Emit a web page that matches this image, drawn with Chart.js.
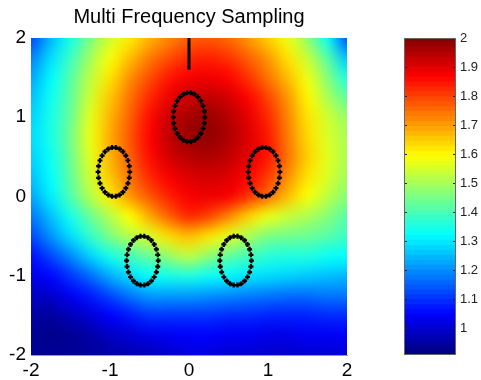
<!DOCTYPE html>
<html>
<head>
<meta charset="utf-8">
<script src="https://cdn.jsdelivr.net/npm/chart.js@4.4.1/dist/chart.umd.min.js"></script>
<style>
  html, body { margin: 0; padding: 0; background: #fff; }
  #wrap { position: relative; width: 481px; height: 380px; }
  #plot { position: absolute; left: 0; top: 0; }
  #bar { position: absolute; left: 378px; top: 0; }
</style>
</head>
<body>
<div id="wrap">
  <canvas id="plot" width="378" height="380"></canvas>
  <canvas id="bar" width="103" height="380"></canvas>
</div>
<script>
// sample grid (x left to right, y top to bottom)
const gridX = [-2, -1.75, -1.5, -1.25, -1, -0.75, -0.5, -0.25, 0, 0.25, 0.5, 0.75, 1, 1.25, 1.5, 1.75, 2];
const gridY = [2, 1.75, 1.5, 1.25, 1, 0.75, 0.5, 0.25, 0, -0.25, -0.5, -0.75, -1, -1.25, -1.5, -1.75, -2];

// field value at each grid node, one row per gridY entry
const field = [
  [1.12, 1.24, 1.34, 1.45, 1.54, 1.61, 1.67, 1.72, 1.76, 1.77, 1.75, 1.70, 1.64, 1.57, 1.47, 1.33, 1.13],
  [1.18, 1.28, 1.38, 1.49, 1.58, 1.66, 1.73, 1.78, 1.82, 1.83, 1.81, 1.76, 1.70, 1.62, 1.53, 1.41, 1.25],
  [1.22, 1.31, 1.41, 1.52, 1.62, 1.71, 1.78, 1.84, 1.87, 1.88, 1.86, 1.81, 1.74, 1.66, 1.57, 1.46, 1.35],
  [1.25, 1.33, 1.42, 1.54, 1.65, 1.74, 1.82, 1.88, 1.92, 1.93, 1.91, 1.86, 1.79, 1.70, 1.60, 1.50, 1.42],
  [1.27, 1.34, 1.43, 1.56, 1.67, 1.76, 1.85, 1.92, 1.96, 1.97, 1.94, 1.89, 1.82, 1.72, 1.62, 1.54, 1.48],
  [1.28, 1.34, 1.44, 1.57, 1.68, 1.77, 1.86, 1.93, 1.97, 1.98, 1.95, 1.90, 1.84, 1.73, 1.63, 1.55, 1.50],
  [1.27, 1.33, 1.43, 1.56, 1.67, 1.76, 1.85, 1.91, 1.94, 1.95, 1.93, 1.89, 1.84, 1.74, 1.64, 1.56, 1.50],
  [1.25, 1.32, 1.42, 1.54, 1.65, 1.74, 1.82, 1.87, 1.90, 1.91, 1.90, 1.86, 1.80, 1.71, 1.62, 1.55, 1.49],
  [1.22, 1.30, 1.40, 1.51, 1.61, 1.70, 1.77, 1.83, 1.87, 1.88, 1.87, 1.81, 1.74, 1.66, 1.58, 1.52, 1.46],
  [1.17, 1.25, 1.34, 1.43, 1.51, 1.59, 1.68, 1.76, 1.82, 1.79, 1.72, 1.64, 1.57, 1.53, 1.50, 1.46, 1.41],
  [1.12, 1.20, 1.28, 1.37, 1.45, 1.51, 1.55, 1.63, 1.66, 1.62, 1.56, 1.50, 1.45, 1.44, 1.43, 1.41, 1.38],
  [1.06, 1.12, 1.19, 1.27, 1.34, 1.39, 1.43, 1.48, 1.52, 1.47, 1.42, 1.39, 1.36, 1.35, 1.35, 1.33, 1.32],
  [1.02, 1.05, 1.10, 1.16, 1.23, 1.28, 1.32, 1.34, 1.35, 1.33, 1.31, 1.29, 1.28, 1.27, 1.26, 1.25, 1.24],
  [0.98, 0.99, 1.03, 1.07, 1.12, 1.17, 1.21, 1.21, 1.21, 1.20, 1.19, 1.18, 1.17, 1.16, 1.16, 1.17, 1.17],
  [0.95, 0.94, 0.97, 1.00, 1.04, 1.07, 1.10, 1.10, 1.10, 1.10, 1.09, 1.09, 1.08, 1.08, 1.08, 1.09, 1.09],
  [0.93, 0.92, 0.93, 0.95, 0.98, 1.00, 1.02, 1.03, 1.04, 1.04, 1.03, 1.03, 1.02, 1.02, 1.03, 1.03, 1.04],
  [0.93, 0.93, 0.93, 0.94, 0.95, 0.96, 0.97, 0.99, 1.01, 1.01, 1.00, 1.00, 0.99, 0.99, 1.00, 1.00, 1.00]
];

// sampling rings (centres and half-axes)
const ringX = [0, -0.95, -0.59, 0.59, 0.95];
const ringY = [1.0, 0.31, -0.81, -0.81, 0.31];
const ringRadiusX = 0.2;
const ringRadiusY = 0.31;
const dotsPerRing = 26;

// probe segment at the top
const probeX = [0, 0];
const probeY = [1.6, 2];

// colour scale
const colorMin = 0.907;
const colorMax = 2;
const colorLevels = 64;

const fontFamily = '"Liberation Sans", Arial, Helvetica, sans-serif';

function jet(t) {
  t = Math.min(1, Math.max(0, t));
  const c = v => Math.round(255 * Math.min(1, Math.max(0, v)));
  return [c(1.5 - Math.abs(4 * t - 3)), c(1.5 - Math.abs(4 * t - 2)), c(1.5 - Math.abs(4 * t - 1))];
}

function jetCss(t) {
  const [r, g, b] = jet(t);
  return `rgb(${r},${g},${b})`;
}

// paints the field under the datasets, stretched over the grid extent
const heatmap = {
  id: 'heatmap',
  beforeDatasetsDraw(chart) {
    const { ctx, chartArea, scales: { x, y } } = chart;
    const img = document.createElement('canvas');
    img.width = gridX.length;
    img.height = gridY.length;
    const ic = img.getContext('2d');
    const pix = ic.createImageData(img.width, img.height);
    field.forEach((row, j) => row.forEach((v, i) => {
      const [r, g, b] = jet((v - colorMin) / (colorMax - colorMin));
      const k = (j * img.width + i) * 4;
      pix.data[k] = r;
      pix.data[k + 1] = g;
      pix.data[k + 2] = b;
      pix.data[k + 3] = 255;
    }));
    ic.putImageData(pix, 0, 0);

    const hx = (gridX[1] - gridX[0]) / 2;
    const hy = (gridY[0] - gridY[1]) / 2;
    const left = x.getPixelForValue(gridX[0] - hx);
    const right = x.getPixelForValue(gridX[gridX.length - 1] + hx);
    const top = y.getPixelForValue(gridY[0] + hy);
    const bottom = y.getPixelForValue(gridY[gridY.length - 1] - hy);

    ctx.save();
    ctx.beginPath();
    ctx.rect(chartArea.left, chartArea.top, chartArea.width, chartArea.height);
    ctx.clip();
    ctx.imageSmoothingEnabled = true;
    ctx.imageSmoothingQuality = 'high';
    ctx.drawImage(img, left, top, right - left, bottom - top);
    ctx.restore();
  }
};

const rings = ringX.map((cx, i) => ({
  data: Array.from({ length: dotsPerRing }, (_, k) => {
    const a = 2 * Math.PI * k / dotsPerRing;
    return { x: cx + ringRadiusX * Math.cos(a), y: ringY[i] + ringRadiusY * Math.sin(a) };
  }),
  pointStyle: 'cross',
  pointRadius: 2.5,
  borderColor: '#000',
  backgroundColor: '#000',
  borderWidth: 2.2
}));

const probe = {
  data: probeX.map((px, i) => ({ x: px, y: probeY[i] })),
  showLine: true,
  borderColor: '#000',
  borderWidth: 3,
  pointRadius: 0
};

const tickFont = { family: fontFamily, size: 19 };

new Chart(document.getElementById('plot'), {
  type: 'scatter',
  data: { datasets: [...rings, probe] },
  options: {
    responsive: false,
    animation: false,
    events: [],
    plugins: {
      legend: { display: false },
      tooltip: { enabled: false },
      title: {
        display: true,
        text: 'Multi Frequency Sampling',
        color: '#000',
        font: { family: fontFamily, size: 20, weight: 'normal' },
        padding: { top: 5, bottom: 9 }
      }
    },
    scales: {
      x: {
        type: 'linear', min: -2, max: 2,
        ticks: { stepSize: 1, color: '#000', font: tickFont, padding: 4 },
        grid: { display: false, drawTicks: false },
        border: { display: true, color: '#999' },
        afterFit(s) { s.height = 25; }
      },
      y: {
        type: 'linear', min: -2, max: 2,
        ticks: { stepSize: 1, color: '#000', font: tickFont, padding: 5 },
        grid: { display: false, drawTicks: false },
        border: { display: false },
        afterFit(s) { s.width = 31; }
      },
      // empty right-hand axis keeping the plot square
      yRight: {
        type: 'linear', position: 'right', min: -2, max: 2,
        ticks: { display: false },
        grid: { display: false, drawTicks: false },
        border: { display: false },
        afterFit(s) { s.width = 31; }
      }
    }
  },
  plugins: [heatmap]
});

// colour bar: one floating bar per colour level
const levelSets = [];
for (let k = 0; k < colorLevels; k++) {
  const lo = colorMin + (colorMax - colorMin) * k / colorLevels;
  const hi = colorMin + (colorMax - colorMin) * (k + 1) / colorLevels;
  levelSets.push({
    data: [[lo, Math.min(colorMax, hi + 0.003)]],
    backgroundColor: jetCss((k + 0.5) / colorLevels),
    borderWidth: 0,
    grouped: false,
    barPercentage: 1,
    categoryPercentage: 1
  });
}

const barFrame = {
  id: 'barFrame',
  afterDatasetsDraw(chart) {
    const { ctx, chartArea: a, scales: { y } } = chart;
    ctx.save();
    ctx.strokeStyle = '#222';
    ctx.lineWidth = 1;
    y.ticks.forEach(t => {
      const py = Math.round(y.getPixelForValue(t.value)) + 0.5;
      ctx.beginPath();
      ctx.moveTo(a.left, py);
      ctx.lineTo(a.left + 3, py);
      ctx.moveTo(a.right - 3, py);
      ctx.lineTo(a.right, py);
      ctx.stroke();
    });
    ctx.strokeStyle = '#666';
    ctx.strokeRect(Math.round(a.left) + 0.5, Math.round(a.top) + 0.5, Math.round(a.width) - 1, Math.round(a.height) - 1);
    ctx.restore();
  }
};

new Chart(document.getElementById('bar'), {
  type: 'bar',
  data: { labels: [''], datasets: levelSets },
  options: {
    responsive: false,
    animation: false,
    events: [],
    layout: { padding: { left: 26, top: 38, bottom: 25 } },
    plugins: { legend: { display: false }, tooltip: { enabled: false } },
    scales: {
      x: { display: false },
      y: {
        position: 'right',
        min: colorMin, max: colorMax,
        ticks: {
          stepSize: 0.1,
          includeBounds: false,
          color: '#222',
          font: { family: fontFamily, size: 13 },
          padding: 4,
          callback: v => String(+v.toFixed(1))
        },
        grid: { display: false, drawTicks: false },
        border: { display: false },
        afterFit(s) { s.width = 25; }
      }
    }
  },
  plugins: [barFrame]
});
</script>
</body>
</html>
